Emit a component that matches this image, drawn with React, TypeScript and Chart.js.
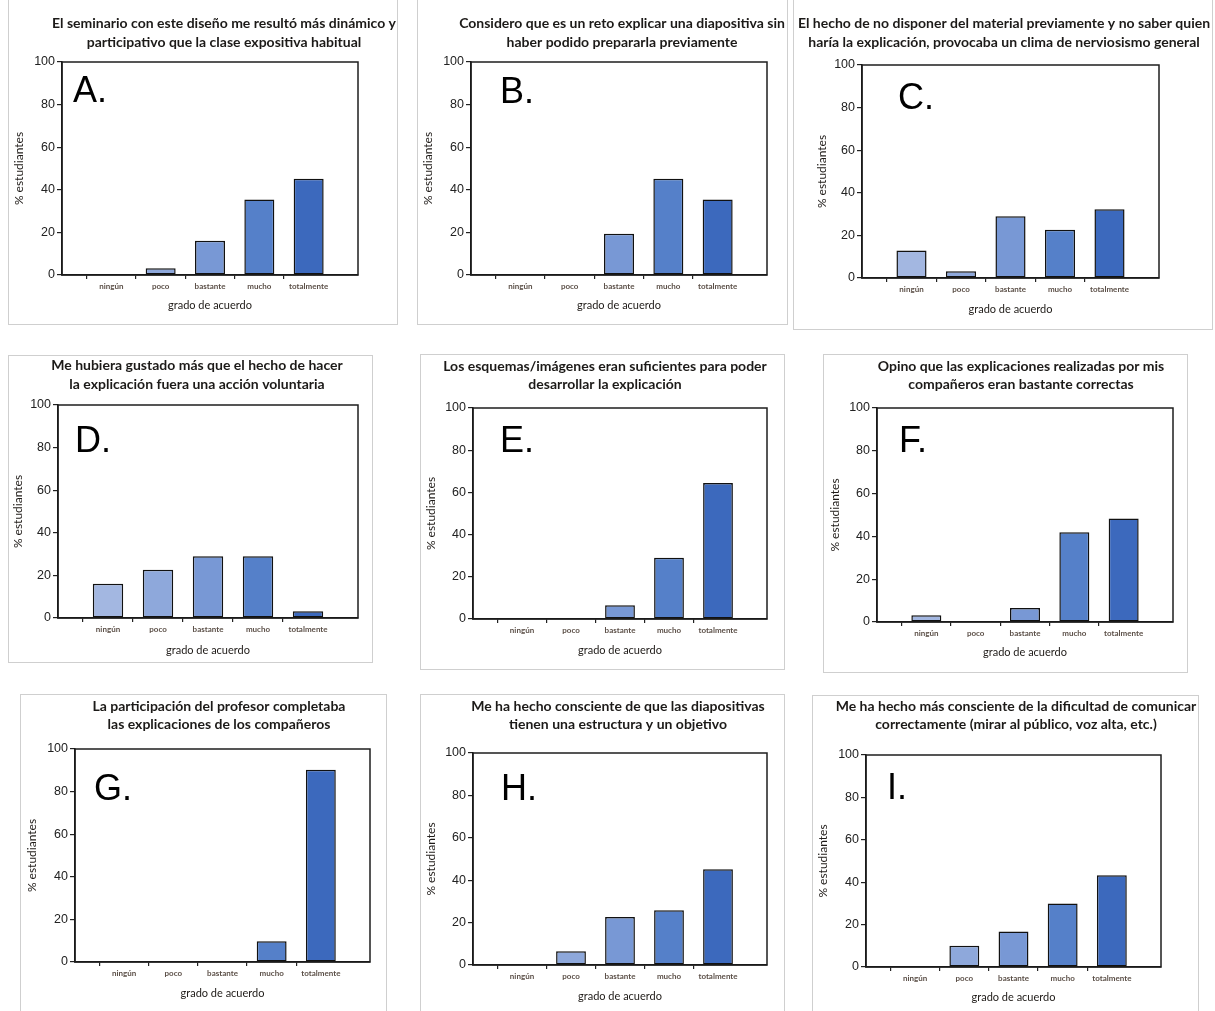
import React, { useEffect, useRef } from 'react';
import { Chart, registerables } from 'chart.js';

Chart.register(...registerables);

// ---------- data ----------
const CATEGORIES = ['ningún', 'poco', 'bastante', 'mucho', 'totalmente'];
const Y_MIN = 0;
const Y_MAX = 100;
const Y_STEP = 20;
const Y_AXIS_TITLE = '% estudiantes';
const X_AXIS_TITLE = 'grado de acuerdo';

const titleA = ['El seminario con este diseño me resultó más dinámico y', 'participativo que la clase expositiva habitual'];
const titleB = ['Considero que es un reto explicar una diapositiva sin', 'haber podido prepararla previamente'];
const titleC = ['El hecho de no disponer del material previamente y no saber quien', 'haría la explicación, provocaba un clima de nerviosismo general'];
const titleD = ['Me hubiera gustado más que el hecho de hacer', 'la explicación fuera una acción voluntaria'];
const titleE = ['Los esquemas/imágenes eran suficientes para poder', 'desarrollar la explicación'];
const titleF = ['Opino que las explicaciones realizadas por mis', 'compañeros eran bastante correctas'];
const titleG = ['La participación del profesor completaba', 'las explicaciones de los compañeros'];
const titleH = ['Me ha hecho consciente de que las diapositivas', 'tienen una estructura y un objetivo'];
const titleI = ['Me ha hecho más consciente de la dificultad de comunicar', 'correctamente (mirar al público, voz alta, etc.)'];

const valuesA = [0, 3.2, 16.1, 35.5, 45.2];
const valuesB = [0, 0, 19.4, 45.2, 35.5];
const valuesC = [12.9, 3.2, 29.0, 22.6, 32.3];
const valuesD = [16.1, 22.6, 29.0, 29.0, 3.2];
const valuesE = [0, 0, 6.5, 29.0, 64.5];
const valuesF = [3.2, 0, 6.5, 41.9, 48.4];
const valuesG = [0, 0, 0, 9.7, 90.3];
const valuesH = [0, 6.5, 22.6, 25.8, 45.2];
const valuesI = [0, 10.0, 16.7, 30.0, 43.3];

// ---------- styles ----------
const BAR_COLORS = ['#a3b7e1', '#8ea8db', '#7898d5', '#5580c9', '#3c69bd'];
const TITLE_FONT = 'bold 14px Lato';
const TITLE_COLOR = '#1c1a18';
const LETTER_FONT = '36px "Liberation Sans"';
const Y_TITLE_SIZE = 12;
const X_TITLE_SIZE = 11;
const FRAME_COLOR = '#cfcfcf';

type Panel = {
  key: string;
  letter: string;
  title: string[];
  values: number[];
  canvas: [number, number, number, number];
  plot: [number, number, number, number];
  titleCx: number;
  titleY: [number, number];
  yTitleX: number;
  xTitleY: number;
  letterX: number;
  letterY: number;
  frame: { l: number; t: number; r: number; b: number };
};

const PANELS: Panel[] = [
  { key: 'A', letter: 'A.', title: titleA, values: valuesA, canvas: [0, 0, 405, 335], plot: [62, 62, 358, 275], titleCx: 224, titleY: [23, 42], yTitleX: 19, xTitleY: 305, letterX: 73, letterY: 102, frame: { l: 8, t: -2, r: 398, b: 325 } },
  { key: 'B', letter: 'B.', title: titleB, values: valuesB, canvas: [400, 0, 800, 335], plot: [471, 62, 767, 275], titleCx: 622, titleY: [23, 42], yTitleX: 428, xTitleY: 305, letterX: 500, letterY: 103, frame: { l: 417, t: -2, r: 788, b: 325 } },
  { key: 'C', letter: 'C.', title: titleC, values: valuesC, canvas: [785, 0, 1215, 335], plot: [862, 65, 1159, 278], titleCx: 1004, titleY: [23, 42], yTitleX: 822, xTitleY: 309, letterX: 898, letterY: 109, frame: { l: 793, t: -2, r: 1213, b: 330 } },
  { key: 'D', letter: 'D.', title: titleD, values: valuesD, canvas: [0, 345, 405, 680], plot: [58, 405, 358, 618], titleCx: 197, titleY: [365, 384], yTitleX: 18, xTitleY: 650, letterX: 75, letterY: 452, frame: { l: 8, t: 355, r: 373, b: 663 } },
  { key: 'E', letter: 'E.', title: titleE, values: valuesE, canvas: [400, 345, 800, 680], plot: [473, 408, 767, 619], titleCx: 605, titleY: [366, 384], yTitleX: 431, xTitleY: 650, letterX: 500, letterY: 452, frame: { l: 420, t: 354, r: 785, b: 670 } },
  { key: 'F', letter: 'F.', title: titleF, values: valuesF, canvas: [785, 345, 1215, 680], plot: [877, 408, 1173, 622], titleCx: 1021, titleY: [366, 384], yTitleX: 835, xTitleY: 652, letterX: 899, letterY: 452, frame: { l: 823, t: 354, r: 1188, b: 673 } },
  { key: 'G', letter: 'G.', title: titleG, values: valuesG, canvas: [0, 690, 405, 1011], plot: [75, 749, 370, 962], titleCx: 219, titleY: [706, 724], yTitleX: 32, xTitleY: 993, letterX: 94, letterY: 800, frame: { l: 20, t: 694, r: 387, b: 1020 } },
  { key: 'H', letter: 'H.', title: titleH, values: valuesH, canvas: [400, 690, 800, 1011], plot: [473, 753, 767, 965], titleCx: 618, titleY: [706, 724], yTitleX: 431, xTitleY: 996, letterX: 501, letterY: 800, frame: { l: 420, t: 694, r: 785, b: 1020 } },
  { key: 'I', letter: 'I.', title: titleI, values: valuesI, canvas: [785, 690, 1215, 1011], plot: [866, 755, 1161, 967], titleCx: 1016, titleY: [706, 724], yTitleX: 823, xTitleY: 997, letterX: 887, letterY: 799, frame: { l: 812, t: 695, r: 1199, b: 1020 } },
];

const panelDecor = {
  id: 'panelDecor',
  afterDatasetsDraw(chart: any) {
    const { ctx, chartArea: a } = chart;
    ctx.save();
    ctx.strokeStyle = '#1e1e1e';
    ctx.lineWidth = 1.5;
    ctx.strokeRect(a.left, a.top, a.right - a.left, a.bottom - a.top);
    ctx.restore();
  },
  afterDraw(chart: any, _args: any, opts: any) {
    const { ctx } = chart;
    ctx.save();
    ctx.font = TITLE_FONT;
    ctx.fillStyle = TITLE_COLOR;
    ctx.textAlign = 'center';
    ctx.textBaseline = 'middle';
    (opts.lines as string[]).forEach((line, i) => {
      ctx.fillText(line, opts.cx, opts.ys[i]);
    });
    ctx.font = LETTER_FONT;
    ctx.fillStyle = '#000';
    ctx.textAlign = 'left';
    ctx.textBaseline = 'alphabetic';
    ctx.fillText(opts.letter, opts.letterX, opts.letterY);
    ctx.restore();
  },
};

function PanelChart({ p }: { p: Panel }) {
  const ref = useRef<HTMLCanvasElement | null>(null);
  const [cx0, cy0, cx1, cy1] = p.canvas;
  const w = cx1 - cx0;
  const h = cy1 - cy0;

  useEffect(() => {
    if (!ref.current) return;
    const [L, T, R, B] = p.plot;
    const yTitleLh = Y_TITLE_SIZE * 1.2;
    const xTitleLh = X_TITLE_SIZE * 1.2;
    const yAxisW = L - p.yTitleX + yTitleLh / 2;
    const xAxisH = p.xTitleY - B + xTitleLh / 2;
    const padLeft = L - cx0 - yAxisW;
    const padTop = T - cy0;
    const padRight = cx1 - R;
    const padBottom = cy1 - B - xAxisH;

    const labels = ['', ...CATEGORIES, ''];
    const data = [null, ...p.values, null];
    const colors = ['transparent', ...BAR_COLORS, 'transparent'];

    const chart = new Chart(ref.current, {
      type: 'bar',
      data: {
        labels,
        datasets: [
          {
            data: data as any,
            backgroundColor: colors,
            borderColor: '#111',
            borderWidth: 1.5,
            borderSkipped: false,
            barPercentage: 0.76,
            categoryPercentage: 0.8,
          },
        ],
      },
      options: {
        responsive: false,
        maintainAspectRatio: false,
        animation: false,
        layout: { padding: { left: padLeft, top: padTop, right: padRight, bottom: padBottom } },
        plugins: {
          legend: { display: false },
          title: { display: false },
          tooltip: { enabled: false },
          panelDecor: {
            lines: p.title,
            cx: p.titleCx - cx0,
            ys: p.titleY.map((y) => y - cy0),
            letter: p.letter,
            letterX: p.letterX - cx0,
            letterY: p.letterY - cy0,
          },
        } as any,
        scales: {
          x: {
            type: 'category',
            offset: false,
            afterFit: (scale: any) => {
              scale.height = xAxisH;
            },
            border: { display: true, color: '#111', width: 1.5 },
            grid: {
              drawOnChartArea: false,
              drawTicks: true,
              tickLength: 4,
              lineWidth: 1.2,
              color: (c: any) => (c.index === 0 || c.index === labels.length - 1 ? 'rgba(0,0,0,0)' : '#222'),
            },
            ticks: {
              autoSkip: false,
              maxRotation: 0,
              minRotation: 0,
              padding: 3,
              color: '#5b4f47',
              font: { family: 'Lato', size: 8, weight: 'bold' },
            },
            title: {
              display: true,
              text: X_AXIS_TITLE,
              color: '#1e1a17',
              padding: 0,
              font: { family: 'Lato', size: X_TITLE_SIZE, lineHeight: 1.2 },
            },
          },
          y: {
            min: Y_MIN,
            max: Y_MAX,
            afterFit: (scale: any) => {
              scale.width = yAxisW;
            },
            border: { display: true, color: '#111', width: 1.5 },
            grid: {
              drawOnChartArea: false,
              drawTicks: true,
              tickLength: 5,
              lineWidth: 1.2,
              color: '#222',
            },
            ticks: {
              stepSize: Y_STEP,
              padding: 2,
              color: '#222',
              font: { family: '"Liberation Sans"', size: 12.5 },
            },
            title: {
              display: true,
              text: Y_AXIS_TITLE,
              color: '#1e1a17',
              padding: 0,
              font: { family: 'Lato', size: Y_TITLE_SIZE, lineHeight: 1.2 },
            },
          },
        },
      },
      plugins: [panelDecor as any],
    });
    return () => chart.destroy();
  }, [p]);

  return (
    <canvas
      ref={ref}
      width={w}
      height={h}
      style={{ position: 'absolute', left: cx0, top: cy0, width: w, height: h }}
    />
  );
}

export default function App() {
  return (
    <div
      style={{
        position: 'absolute',
        left: 0,
        top: 0,
        width: 1215,
        height: 1011,
        overflow: 'hidden',
        background: '#fff',
      }}
    >
      {PANELS.map((p) => (
        <div
          key={'f' + p.key}
          style={{
            position: 'absolute',
            left: p.frame.l,
            top: p.frame.t,
            width: p.frame.r - p.frame.l,
            height: p.frame.b - p.frame.t,
            border: `1px solid ${FRAME_COLOR}`,
            boxSizing: 'border-box',
          }}
        />
      ))}
      {PANELS.map((p) => (
        <PanelChart key={p.key} p={p} />
      ))}
    </div>
  );
}
